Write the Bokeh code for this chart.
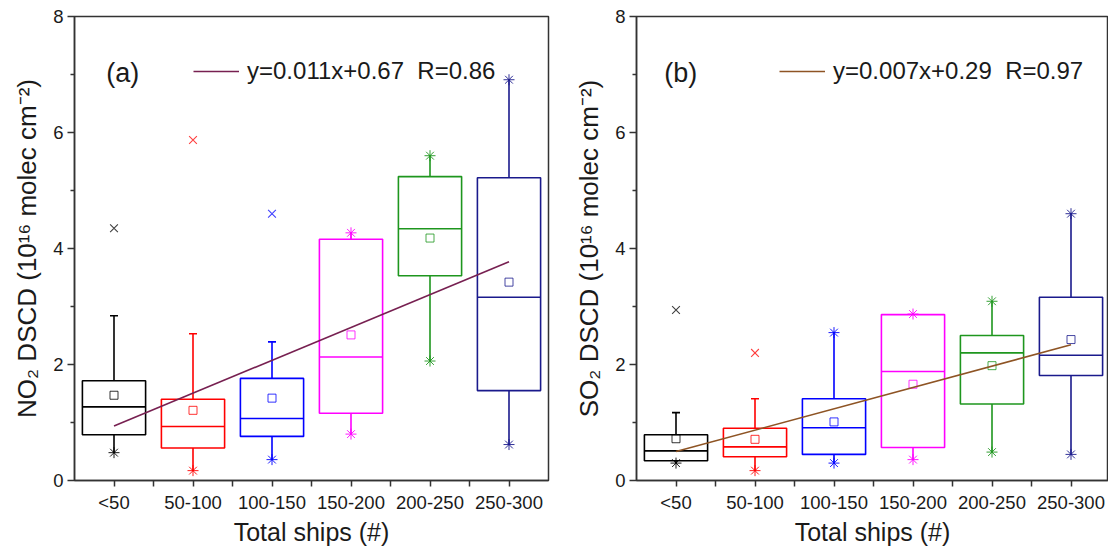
from bokeh.plotting import figure
from bokeh.layouts import row
from bokeh.models import FixedTicker, Legend, LegendItem, Label, Range1d
from bokeh.embed import file_html
from bokeh.resources import INLINE

categories = ["<50", "50-100", "100-150", "150-200", "200-250", "250-300"]
box_colors = ["#000000", "#FF0000", "#0000FF", "#FF00FF", "#1E961E", "#1A1A8C"]

# Panel (a): NO2
no2_q1 = [0.79, 0.56, 0.76, 1.16, 3.53, 1.55]
no2_med = [1.27, 0.93, 1.07, 2.13, 4.34, 3.16]
no2_q3 = [1.72, 1.40, 1.76, 4.16, 5.24, 5.22]
no2_mean = [1.47, 1.21, 1.42, 2.51, 4.18, 3.42]
no2_lo = [0.48, 0.17, 0.36, 0.80, 2.06, 0.62]
no2_hi = [2.84, 2.53, 2.39, 4.27, 5.60, 6.91]
no2_hi_cap = [True, True, True, False, False, False]
no2_out_cat = [0, 1, 2]
no2_out_val = [4.35, 5.87, 4.60]
no2_fit_ends = [0.94, 3.77]
no2_fit_label = "y=0.011x+0.67 \u00a0R=0.86"

# Panel (b): SO2
so2_q1 = [0.34, 0.41, 0.45, 0.57, 1.32, 1.81]
so2_med = [0.51, 0.58, 0.91, 1.88, 2.20, 2.16]
so2_q3 = [0.79, 0.90, 1.41, 2.86, 2.50, 3.16]
so2_mean = [0.72, 0.71, 1.01, 1.66, 1.98, 2.43]
so2_lo = [0.30, 0.17, 0.30, 0.36, 0.49, 0.45]
so2_hi = [1.17, 1.41, 2.55, 2.87, 3.09, 4.60]
so2_hi_cap = [True, True, False, False, False, False]
so2_out_cat = [0, 1]
so2_out_val = [2.94, 2.20]
so2_fit_ends = [0.50, 2.34]
so2_fit_label = "y=0.007x+0.29 \u00a0R=0.97"

FONT = "Liberation Sans"
TXT = "#1a1a1a"


def make_panel(q1, med, q3, mean, lo, hi, hi_cap, out_cat, out_val, fit_ends,
               fit_label, fit_color, ylabel, tag, tag_x, border_left, border_right,
               frame_w, x_end, legend_x):
    p = figure(frame_width=frame_w, frame_height=464,
               x_range=Range1d(0, x_end), y_range=Range1d(0, 8),
               min_border_left=border_left, min_border_right=border_right,
               min_border_top=16, min_border_bottom=72,
               output_backend="svg", toolbar_location=None)
    p.grid.visible = False
    p.outline_line_color = "#333333"
    p.outline_line_width = 1.5
    p.background_fill_color = "white"
    p.border_fill_color = "white"

    n = len(categories)
    xc = [i + 0.5 for i in range(n)]
    half = 0.4

    # x axis
    xa = p.xaxis[0]
    xa.ticker = FixedTicker(ticks=xc, minor_ticks=[float(i) for i in range(1, n)])
    xa.major_label_overrides = {x: c for x, c in zip(xc, categories)}
    xa.major_tick_out = 6
    xa.major_tick_in = 0
    xa.minor_tick_out = 6
    xa.minor_tick_in = 0
    xa.axis_label = "Total ships (#)"

    # y axis
    ya = p.yaxis[0]
    ya.ticker = FixedTicker(ticks=[0, 2, 4, 6, 8], minor_ticks=[1, 3, 5, 7])
    ya.major_tick_out = 7
    ya.major_tick_in = 0
    ya.minor_tick_out = 4
    ya.minor_tick_in = 0
    ya.axis_label = ylabel

    for ax in (xa, ya):
        ax.axis_line_color = "#333333"
        ax.axis_line_width = 1.5
        ax.major_tick_line_color = "#333333"
        ax.major_tick_line_width = 1.5
        ax.minor_tick_line_color = "#333333"
        ax.minor_tick_line_width = 1.5
        ax.major_label_text_font = FONT
        ax.major_label_text_font_size = "18.5px"
        ax.major_label_text_color = TXT
        ax.axis_label_text_font = FONT
        ax.axis_label_text_font_style = "normal"
        ax.axis_label_text_color = TXT
    xa.axis_label_text_font_size = "25px"
    ya.axis_label_text_font_size = "26px"
    xa.major_label_standoff = 5
    xa.axis_label_standoff = 2
    ya.major_label_standoff = 4
    ya.axis_label_standoff = 8

    # boxes
    p.quad(left=[x - half for x in xc], right=[x + half for x in xc],
           bottom=q1, top=q3, fill_color=None, line_color=box_colors, line_width=1.6)
    # medians
    p.segment(x0=[x - half for x in xc], x1=[x + half for x in xc], y0=med, y1=med,
              line_color=box_colors, line_width=1.6)
    # whiskers
    p.segment(x0=xc, x1=xc, y0=q3, y1=hi, line_color=box_colors, line_width=1.6)
    p.segment(x0=xc, x1=xc, y0=q1, y1=lo, line_color=box_colors, line_width=1.6)

    # caps at upper whisker end
    cap_x = [xc[i] for i in range(n) if hi_cap[i]]
    cap_y = [hi[i] for i in range(n) if hi_cap[i]]
    cap_c = [box_colors[i] for i in range(n) if hi_cap[i]]
    p.scatter(x=cap_x, y=cap_y, marker="dash", size=8, line_color=cap_c, line_width=1.6)

    # asterisk markers at min / max
    st_x = [xc[i] for i in range(n)] + [xc[i] for i in range(n) if not hi_cap[i]]
    st_y = list(lo) + [hi[i] for i in range(n) if not hi_cap[i]]
    st_c = list(box_colors) + [box_colors[i] for i in range(n) if not hi_cap[i]]
    p.scatter(x=st_x, y=st_y, marker="asterisk", size=11, line_color=st_c,
              line_width=1.0, line_alpha=0.9)

    # outliers (x)
    p.scatter(x=[xc[i] for i in out_cat], y=out_val, marker="x", size=11,
              line_color=[box_colors[i] for i in out_cat], line_width=1.1, line_alpha=0.75)

    # means
    p.scatter(x=xc, y=mean, marker="square", size=8, fill_color=None,
              line_color=box_colors, line_width=1.0, line_alpha=0.8)

    # fit line
    fit = p.line(x=[xc[0], xc[-1]], y=fit_ends, line_color=fit_color, line_width=1.6)

    legend = Legend(items=[LegendItem(label=fit_label, renderers=[fit])],
                    location=(legend_x, 395), orientation="vertical",
                    background_fill_alpha=0, border_line_alpha=0,
                    padding=0, margin=0, spacing=0,
                    glyph_width=46, glyph_height=24, label_height=24,
                    label_standoff=8,
                    label_text_font=FONT, label_text_font_size="24px",
                    label_text_color=TXT)
    p.add_layout(legend)

    p.add_layout(Label(x=tag_x, y=7.02, text=tag, text_align="center",
                       text_baseline="middle", text_font=FONT,
                       text_font_size="27px", text_color=TXT))
    return p


pa = make_panel(no2_q1, no2_med, no2_q3, no2_mean, no2_lo, no2_hi, no2_hi_cap,
                no2_out_cat, no2_out_val, no2_fit_ends, no2_fit_label, "#772051",
                "NO\u2082 DSCD (10\u00b9\u2076 molec cm\u207b\u00b2)", "(a)", 0.61,
                74, 8, 474, 6.0, 119)
pb = make_panel(so2_q1, so2_med, so2_q3, so2_mean, so2_lo, so2_hi, so2_hi_cap,
                so2_out_cat, so2_out_val, so2_fit_ends, so2_fit_label, "#8E5424",
                "SO\u2082 DSCD (10\u00b9\u2076 molec cm\u207b\u00b2)", "(b)", 0.56,
                80, 0, 472, 472 / 79, 143)

layout = row(pa, pb, spacing=0)
open("out.html", "w").write(file_html(layout, INLINE))
